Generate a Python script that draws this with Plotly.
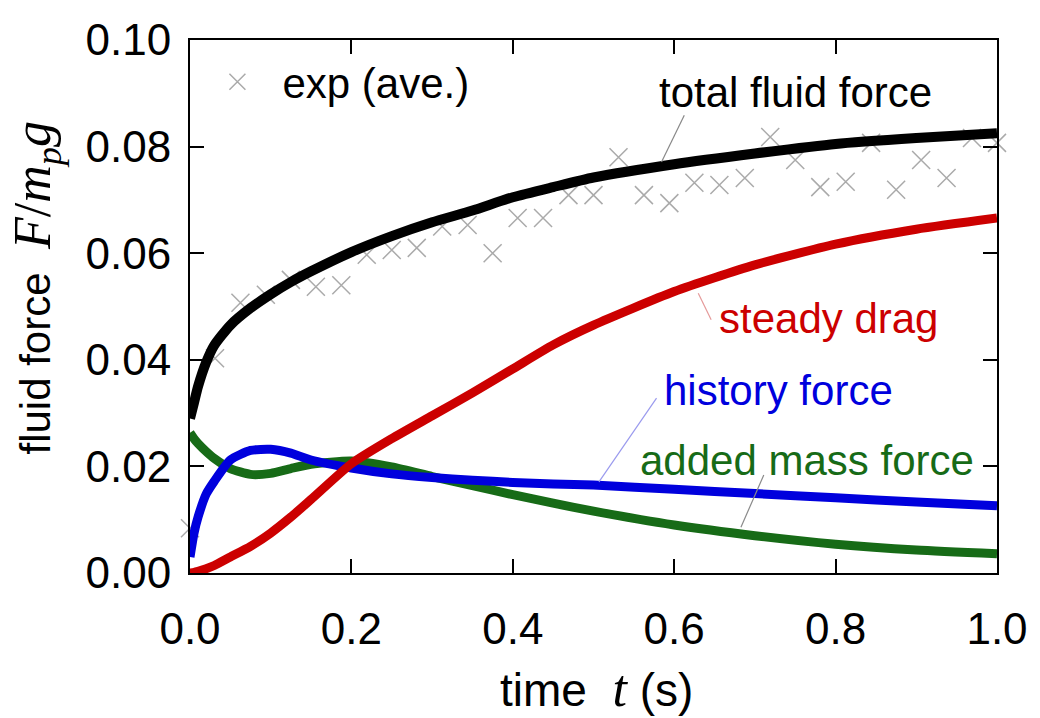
import plotly.graph_objects as go

# ---- data ----
t_curve = [0, 0.005, 0.01, 0.02, 0.03, 0.05, 0.075, 0.1, 0.125, 0.15, 0.2, 0.25,
           0.3, 0.35, 0.4, 0.45, 0.5, 0.6, 0.7, 0.8, 0.9, 1.0]
total_force = [0.029, 0.032, 0.035, 0.0395, 0.0427, 0.0465, 0.0497, 0.0523, 0.0546,
               0.0566, 0.0602, 0.0632, 0.0658, 0.068, 0.0705, 0.0724, 0.0742, 0.0767,
               0.0787, 0.0805, 0.0816, 0.0825]
steady_drag = [0, 0.0001, 0.0003, 0.0008, 0.0014, 0.003, 0.005, 0.0075, 0.0105,
               0.0138, 0.0205, 0.0252, 0.0295, 0.0338, 0.0383, 0.0428, 0.0465, 0.0528,
               0.0578, 0.0617, 0.0645, 0.0666]
history_force = [0.003, 0.0075, 0.0105, 0.0148, 0.0172, 0.0212, 0.0230, 0.0232, 0.0225,
                 0.0212, 0.0197, 0.0186, 0.0179, 0.0174, 0.0170, 0.0167, 0.0165, 0.0157,
                 0.0149, 0.0141, 0.0133, 0.0126]
added_mass = [0.0263, 0.0252, 0.0243, 0.0228, 0.0215, 0.0196, 0.0185, 0.0187, 0.0196,
              0.0204, 0.0210, 0.0199, 0.0181, 0.0164, 0.0147, 0.0131, 0.0116, 0.0090,
              0.0070, 0.0054, 0.0043, 0.0036]

t_exp = [0, 0.031, 0.0625, 0.094, 0.125, 0.156, 0.1875, 0.219, 0.25, 0.281, 0.3125,
         0.344, 0.375, 0.406, 0.4375, 0.469, 0.5, 0.531, 0.5625, 0.594, 0.625, 0.656,
         0.6875, 0.719, 0.75, 0.781, 0.8125, 0.844, 0.875, 0.906, 0.9375, 0.969, 1.0]
f_exp = [0.0084, 0.0403, 0.0507, 0.0522, 0.055, 0.0537, 0.054, 0.0597, 0.0606, 0.061,
         0.065, 0.0653, 0.060, 0.0666, 0.0666, 0.0709, 0.0709, 0.078, 0.0709, 0.0694,
         0.0732, 0.0728, 0.0741, 0.0818, 0.0775, 0.0724, 0.0734, 0.0807, 0.0719, 0.0775,
         0.0741, 0.0816, 0.0807]

x_ticks = [0.0, 0.2, 0.4, 0.6, 0.8, 1.0]
x_tick_text = ["0.0", "0.2", "0.4", "0.6", "0.8", "1.0"]
y_ticks = [0.0, 0.02, 0.04, 0.06, 0.08, 0.10]
y_tick_text = ["0.00", "0.02", "0.04", "0.06", "0.08", "0.10"]

# ---- styles ----
C_TOTAL = "#000000"
C_STEADY = "#cc0000"
C_HIST = "#0000dd"
C_ADDED = "#176b17"
FONT = "Liberation Sans, Arial, sans-serif"

fig = go.Figure()
fig.add_trace(go.Scatter(x=t_exp, y=f_exp, mode="markers", name="exp (ave.)",
                         marker=dict(symbol="x-thin", size=18, color="#aaaaaa",
                                     line=dict(width=1.5, color="#aaaaaa")),
                         cliponaxis=False, showlegend=True))
fig.add_trace(go.Scatter(x=t_curve, y=added_mass, mode="lines", name="added mass force",
                         line=dict(color=C_ADDED, width=9, shape="spline", smoothing=0.6),
                         showlegend=False))
fig.add_trace(go.Scatter(x=t_curve, y=history_force, mode="lines", name="history force",
                         line=dict(color=C_HIST, width=9, shape="spline", smoothing=0.6),
                         showlegend=False))
fig.add_trace(go.Scatter(x=t_curve, y=steady_drag, mode="lines", name="steady drag",
                         line=dict(color=C_STEADY, width=9, shape="spline", smoothing=0.6),
                         showlegend=False))
fig.add_trace(go.Scatter(x=t_curve, y=total_force, mode="lines", name="total fluid force",
                         line=dict(color=C_TOTAL, width=10, shape="spline", smoothing=0.6),
                         showlegend=False))

labels = [
    ("total fluid force", 0.750, 0.0902, C_TOTAL),
    ("steady drag", 0.791, 0.0478, C_STEADY),
    ("history force", 0.729, 0.0343, C_HIST),
    ("added mass force", 0.764, 0.0212, C_ADDED),
]
for txt, x, y, c in labels:
    fig.add_annotation(x=x, y=y, xref="x", yref="y", text=txt, showarrow=False,
                       font=dict(family=FONT, size=42, color=c),
                       xanchor="center", yanchor="middle")

leaders = [
    (0.6125, 0.0859, 0.5843, 0.0771, "#888888"),
    (0.6298, 0.0525, 0.6458, 0.0475, "#e59a9a"),
    (0.5781, 0.0328, 0.5068, 0.0171, "#9a9aee"),
    (0.7110, 0.0184, 0.6827, 0.0086, "#8a8a8a"),
]
for x0, y0, x1, y1, c in leaders:
    fig.add_shape(type="line", xref="x", yref="y", x0=x0, y0=y0, x1=x1, y1=y1,
                  line=dict(color=c, width=1.2))

fig.add_annotation(xref="paper", yref="paper", x=0.504, y=-0.216,
                   text=("time\u00a0\u00a0<span style='font-family:Liberation Serif;font-size:52px'>"
                         "<i>t</i></span>\u00a0(s)"),
                   showarrow=False, font=dict(family=FONT, size=46, color="#000"),
                   xanchor="center", yanchor="middle")
fig.add_annotation(xref="paper", yref="paper", x=-0.190, y=0.535, textangle=-90,
                   text=("fluid force\u00a0\u00a0<span style='font-family:Liberation Serif;font-size:52px'>"
                         "<i>F</i>/<i>m</i><sub><i>p</i></sub><i>g</i></span>"),
                   showarrow=False, font=dict(family=FONT, size=42, color="#000"),
                   xanchor="center", yanchor="middle")

axis_common = dict(showgrid=False, zeroline=False, showline=True, linecolor="#000",
                   linewidth=2, mirror="ticks", ticks="inside", ticklen=14,
                   tickwidth=2, tickcolor="#000",
                   tickfont=dict(family=FONT, size=44, color="#000"))
fig.update_xaxes(range=[0, 1.0], tickvals=x_ticks, ticktext=x_tick_text,
                 ticklabelstandoff=16, **axis_common)
fig.update_yaxes(range=[0, 0.10], tickvals=y_ticks, ticktext=y_tick_text,
                 ticklabelstandoff=8, **axis_common)

fig.update_layout(width=1040, height=718, autosize=False,
                  margin=dict(l=190, r=37, t=40, b=145),
                  paper_bgcolor="white", plot_bgcolor="white",
                  showlegend=True,
                  legend=dict(x=0.003, y=0.985, xanchor="left", yanchor="top",
                              bgcolor="rgba(0,0,0,0)", borderwidth=0,
                              font=dict(family=FONT, size=42, color="#000"),
                              itemsizing="trace", itemwidth=80))

fig.write_html("out.html")
